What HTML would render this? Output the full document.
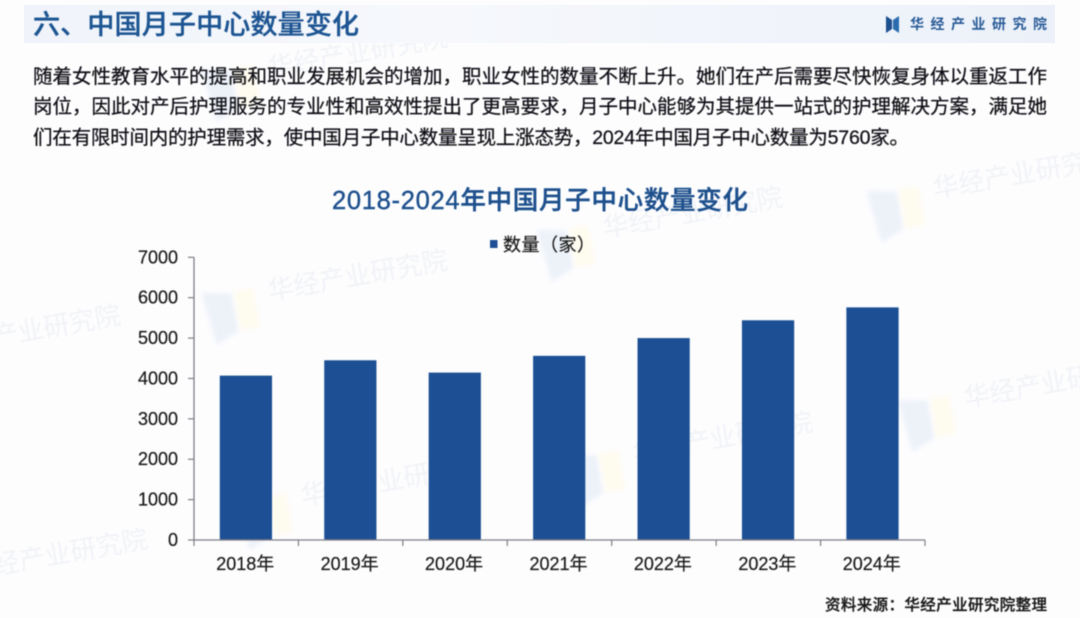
<!DOCTYPE html>
<html lang="zh">
<head>
<meta charset="utf-8">
<title>2018-2024年中国月子中心数量变化</title>
<style>
html,body{margin:0;padding:0;background:#fdfdfe;}
#page{position:relative;width:1080px;height:618px;overflow:hidden;background:#fdfdfe;font-family:"Liberation Sans","Noto Sans CJK SC",sans-serif;}
svg{position:absolute;left:0;top:0;}
text{font-family:"Liberation Sans","Noto Sans CJK SC",sans-serif;}
</style>
</head>
<body>
<div id="page">
<svg id="chart" width="1080" height="618" viewBox="0 0 1080 618" xmlns="http://www.w3.org/2000/svg">
  <defs>
    <linearGradient id="bandGrad" x1="0" x2="1" y1="0" y2="0">
      <stop offset="0" stop-color="#f0f4fa"/>
      <stop offset="0.4" stop-color="#f6f8fc"/>
      <stop offset="1" stop-color="#ecf1f9"/>
    </linearGradient>
    <filter id="soft" x="-10%" y="-10%" width="120%" height="120%"><feGaussianBlur stdDeviation="0.4"/></filter>
    <filter id="softer" x="-30%" y="-30%" width="160%" height="160%"><feGaussianBlur stdDeviation="2.5"/></filter>
    <filter id="wmblur" x="-10%" y="-30%" width="120%" height="160%"><feGaussianBlur stdDeviation="0.5"/></filter>
  </defs>

  <g id="watermarks"></g>

  <rect x="24" y="5" width="1031" height="38" fill="url(#bandGrad)"/>

  <g filter="url(#soft)">
    <text x="33" y="34" font-size="27" font-weight="500" fill="#1d5492" stroke="#1d5492" stroke-width="0.35" textLength="326">六、中国月子中心数量变化</text>

    <g>
      <polygon points="886,16 892,20 892,29 886,33" fill="#1d4f8f"/>
      <polygon points="899,16 893,20 893,29 899,33" fill="#2b6cae"/>
      <text x="910" y="29" font-size="14" font-weight="700" fill="#2a5c98" textLength="137">华经产业研究院</text>
    </g>

    <g font-size="19.5" fill="#111116" stroke="#111116" stroke-width="0.25">
      <text x="33" y="83" textLength="1014">随着女性教育水平的提高和职业发展机会的增加，职业女性的数量不断上升。她们在产后需要尽快恢复身体以重返工作</text>
      <text x="33" y="113" textLength="1014">岗位，因此对产后护理服务的专业性和高效性提出了更高要求，月子中心能够为其提供一站式的护理解决方案，满足她</text>
      <text x="33" y="144" textLength="876">们在有限时间内的护理需求，使中国月子中心数量呈现上涨态势，2024年中国月子中心数量为5760家。</text>
    </g>

    <text x="332" y="209" font-size="25.5" font-weight="500" fill="#1d4f8c" stroke="#1d4f8c" stroke-width="0.4" textLength="416">2018-2024年中国月子中心数量变化</text>

    <g>
      <rect x="490" y="240" width="7.5" height="8" fill="#1d5094"/>
      <text x="503" y="251" font-size="18" fill="#1a1a1a" stroke="#1a1a1a" stroke-width="0.2" textLength="92">数量（家）</text>
    </g>

    <g id="plot"></g>

    <text x="825" y="610" font-size="15.5" font-weight="500" fill="#1a1a1a" stroke="#1a1a1a" stroke-width="0.3" textLength="222">资料来源：华经产业研究院整理</text>
  </g>
</svg>
</div>

<script>
const categories = ["2018年","2019年","2020年","2021年","2022年","2023年","2024年"];
const centerCounts = [4070,4450,4145,4560,5000,5440,5760];
const yTicks = [0,1000,2000,3000,4000,5000,6000,7000];
const watermarkLabels = ["华经产业研究院"];

const NS = "http://www.w3.org/2000/svg";
const plotLeft = 194, plotRight = 925, plotBottom = 540, plotTop = 257.3, yMax = 7000;
function yScale(v){ return plotBottom - (v / yMax) * (plotBottom - plotTop); }
function bandWidth(){ return (plotRight - plotLeft) / categories.length; }
function xEdge(i){ return plotLeft + i * bandWidth(); }
function xCenter(i){ return xEdge(i) + bandWidth() / 2; }

function make(tag, attrs, parent){
  const el = document.createElementNS(NS, tag);
  Object.keys(attrs).forEach(function(k){ el.setAttribute(k, attrs[k]); });
  parent.appendChild(el);
  return el;
}

const plot = document.getElementById("plot");
const axisColor = "#7d7f86";

centerCounts.forEach(function(v, i){
  const w = bandWidth() * 0.5;
  const bar = make("rect", {x: xCenter(i) - w / 2 - 0.3, y: yScale(v), width: w, height: plotBottom - yScale(v), fill: "#1c5093"}, plot);
  
  
});

const yAxis = make("line", {x1: plotLeft, x2: plotLeft, y1: plotTop, y2: plotBottom, stroke: axisColor, "stroke-width": 1.3}, plot);



const xAxis = make("line", {x1: plotLeft, x2: plotRight, y1: plotBottom, y2: plotBottom, stroke: axisColor, "stroke-width": 1.3}, plot);



yTicks.forEach(function(t){
  const y = yScale(t);
  const mark = make("line", {x1: plotLeft - 6, x2: plotLeft, y1: y, y2: y, stroke: axisColor, "stroke-width": 1.2}, plot);
  
  
  const label = make("text", {x: 178, y: y + 6, "text-anchor": "end", "font-size": 18, fill: "#1a1a1a", stroke: "#1a1a1a", "stroke-width": 0.2}, plot);
  label.textContent = String(t);
  
  
});

for (let i = 0; i <= categories.length; i++) {
  const mark = make("line", {x1: xEdge(i), x2: xEdge(i), y1: plotBottom, y2: plotBottom + 6, stroke: axisColor, "stroke-width": 1.2}, plot);
  
  
}

categories.forEach(function(c, i){
  const label = make("text", {x: xCenter(i) - 1, y: 570, "text-anchor": "middle", "font-size": 18, fill: "#1a1a1a", stroke: "#1a1a1a", "stroke-width": 0.2}, plot);
  label.textContent = c;
  
  
});

/* Faint repeating brand watermark */
const wmLayer = document.getElementById("watermarks");
const wmAnchors = [[200,285],[865,183],[535,222],[-127,340],[896,392],[565,447],[233,490],[-100,564],[200,62]];
wmAnchors.forEach(function(a){
  const g = make("g", {transform: "translate(" + a[0] + "," + a[1] + ") rotate(-10)"}, wmLayer);
  
  
  const shapeA = make("polygon", {points: "0,8 30,14 30,52 6,62", fill: "#edf2f9", filter: "url(#softer)"}, g);
  
  
  const shapeB = make("rect", {x: 32, y: 12, width: 20, height: 40, fill: "#fefbef", filter: "url(#softer)"}, g);
  
  
  const label = make("text", {x: 66, y: 27, "font-size": 26, fill: "#f1f3f7", filter: "url(#wmblur)"}, g);
  label.textContent = watermarkLabels[0];
  
  
});
</script>
</body>
</html>
